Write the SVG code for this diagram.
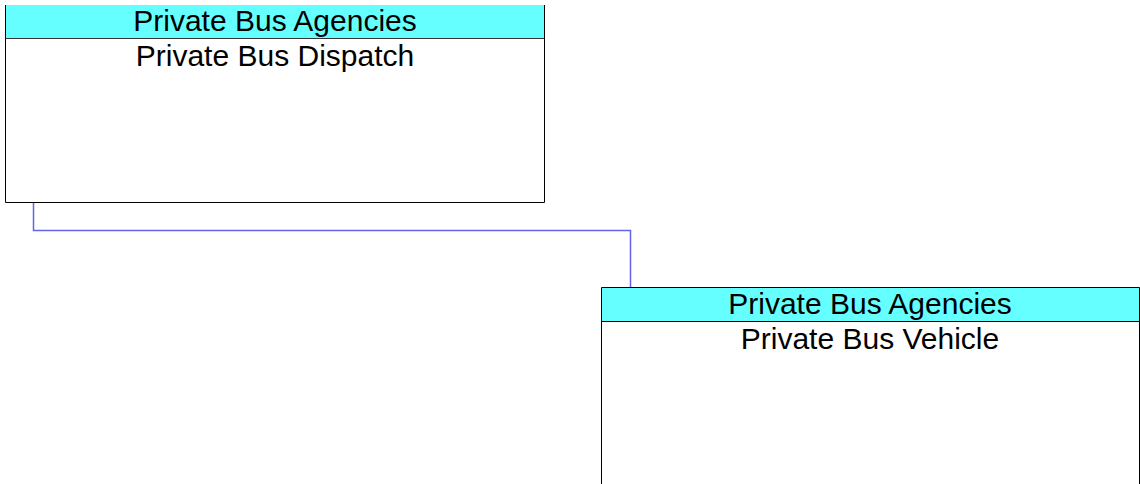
<svg xmlns="http://www.w3.org/2000/svg" width="1140" height="484" viewBox="0 0 1140 484">
<style>
.hdr{fill:#66ffff}
.body{fill:#ffffff}
.edge{stroke:#000000;stroke-width:1;fill:none}
.txt{font-family:"Liberation Sans",Arial,sans-serif;font-size:30px;fill:#000000;text-anchor:middle}
.conn{stroke:#6464e6;stroke-width:1.5;fill:none}
</style>
<rect width="1140" height="484" fill="#ffffff"/>
<g id="connectors">
<path class="conn" d="M33.5,202 L33.5,230.5 L630.5,230.5 L630.5,287"/>
</g>
<g id="node-dispatch">
<rect class="hdr" x="5.5" y="5" width="539" height="33"/>
<rect class="body" x="5.5" y="38" width="539" height="164"/>
<path class="edge" d="M5.5,5 L5.5,202.5 L544.5,202.5 L544.5,5"/>
<line x1="5.5" y1="38.5" x2="544.5" y2="38.5" stroke="#333" stroke-width="1.2"/>
<text class="txt" x="275" y="30.5">Private Bus Agencies</text>
<text class="txt" x="275" y="65.5">Private Bus Dispatch</text>
</g>
<g id="node-vehicle">
<rect class="hdr" x="601.5" y="287.5" width="538" height="34"/>
<rect class="body" x="601.5" y="321.5" width="538" height="170"/>
<path class="edge" d="M601.5,490 L601.5,287.5 L1139.5,287.5 L1139.5,490"/>
<line x1="601.5" y1="321.5" x2="1139.5" y2="321.5" stroke="#000" stroke-width="1"/>
<text class="txt" x="870" y="313.5">Private Bus Agencies</text>
<text class="txt" x="870" y="348.5">Private Bus Vehicle</text>
</g>
</svg>
